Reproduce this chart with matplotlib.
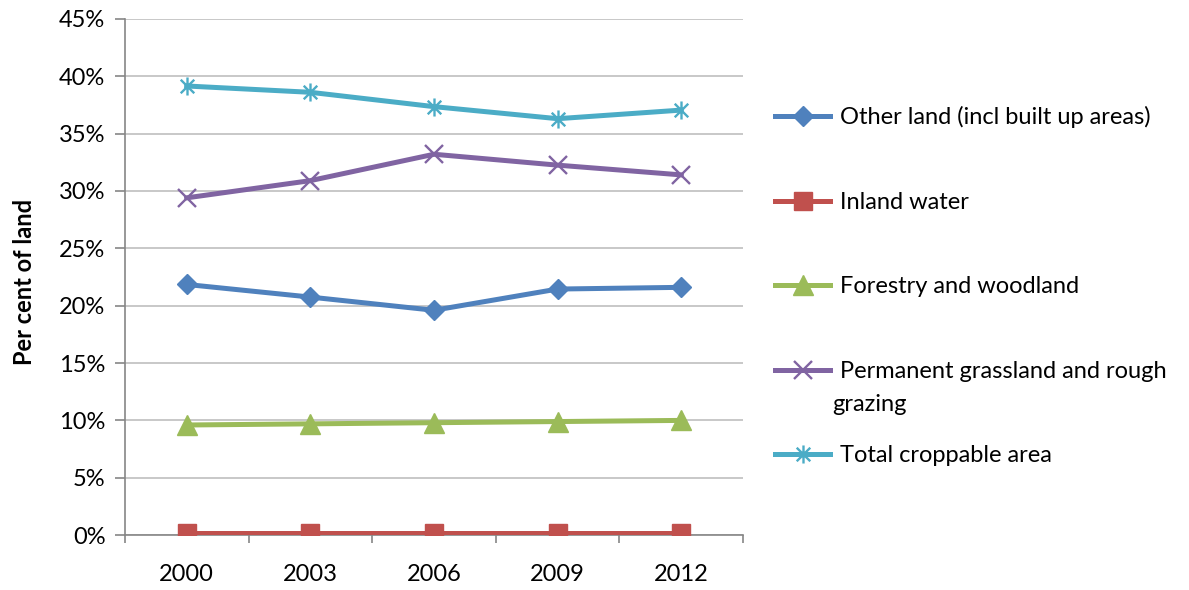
import matplotlib
matplotlib.use("Agg")
import matplotlib.pyplot as plt
from matplotlib.path import Path
from matplotlib.ticker import FixedLocator, PercentFormatter

years = ["2000", "2003", "2006", "2009", "2012"]
other_land = [21.85, 20.75, 19.6, 21.45, 21.6]
inland_water = [0.2, 0.2, 0.2, 0.2, 0.2]
forestry = [9.6, 9.7, 9.8, 9.9, 10.0]
grassland = [29.4, 30.9, 33.2, 32.25, 31.4]
croppable = [39.15, 38.6, 37.35, 36.3, 37.05]

labels = [
    "Other land (incl built up areas)",
    "Inland water",
    "Forestry and woodland",
    "Permanent grassland and rough",
    "Total croppable area",
]
label_wrap = "grazing"

plt.rcParams["font.family"] = ["Lato", "DejaVu Sans"]
FS = 17

# asterisk marker: vertical stroke plus a diagonal cross
asterisk = Path(
    [(0, -1), (0, 1), (-0.75, -0.75), (0.75, 0.75), (-0.75, 0.75), (0.75, -0.75)],
    [Path.MOVETO, Path.LINETO, Path.MOVETO, Path.LINETO, Path.MOVETO, Path.LINETO],
)

fig = plt.figure(figsize=(11.89, 5.90), dpi=100)
ax = fig.add_axes([0.105, 0.093, 0.52, 0.875])

x = list(range(len(years)))
lw = 3.6
ax.plot(x, other_land, color="#4F81BD", lw=lw, marker="D", ms=10, label=labels[0], zorder=3)
ax.plot(x, inland_water, color="#C0504D", lw=lw, marker="s", ms=12.5, label=labels[1], zorder=3)
ax.plot(x, forestry, color="#9BBB59", lw=lw, marker="^", ms=14, label=labels[2], zorder=3)
ax.plot(x, grassland, color="#8064A2", lw=lw, marker="x", ms=13, mew=1.7, label=labels[3], zorder=3)
ax.plot(x, croppable, color="#4BACC6", lw=lw, marker=asterisk, ms=13, mew=1.7, label=labels[4], zorder=3)

ax.set_xlim(-0.5, len(years) - 0.5)
ax.set_ylim(0, 45)
ax.set_xticks(x)
ax.set_xticklabels(years)
ax.xaxis.set_minor_locator(FixedLocator([i - 0.5 for i in range(len(years) + 1)]))
ax.tick_params(axis="x", which="major", length=0, pad=21, labelsize=FS)
ax.tick_params(axis="x", which="minor", length=6, color="#868686", width=1.2, direction="out")
ax.set_yticks(range(0, 46, 5))
ax.yaxis.set_major_formatter(PercentFormatter(decimals=0))
ax.tick_params(axis="y", length=7, color="#868686", width=1.2, labelsize=FS, pad=7)

ax.grid(axis="y", color="#BFBFBF", lw=1.2)
ax.set_axisbelow(True)
for s in ("top", "right"):
    ax.spines[s].set_visible(False)
for s in ("left", "bottom"):
    ax.spines[s].set_color("#868686")
    ax.spines[s].set_linewidth(1.2)

ax.set_ylabel("Per cent of land", fontsize=FS, fontweight="bold")
ax.yaxis.set_label_coords(-0.144, 0.49)

leg = ax.legend(
    loc="center left", bbox_to_anchor=(1.052, 0.482), frameon=False, fontsize=FS,
    handlelength=2.33, handletextpad=0.42, labelspacing=2.69, borderpad=0, borderaxespad=0,
)

# second line of the wrapped legend entry, set just below its first line
fig.canvas.draw()
bb = leg.get_texts()[3].get_window_extent()
fig.text((bb.x0 - 8) / fig.bbox.width, (bb.y0 - 12) / fig.bbox.height, label_wrap,
         fontsize=FS, ha="left", va="top")

fig.savefig("out.png", dpi=100)
